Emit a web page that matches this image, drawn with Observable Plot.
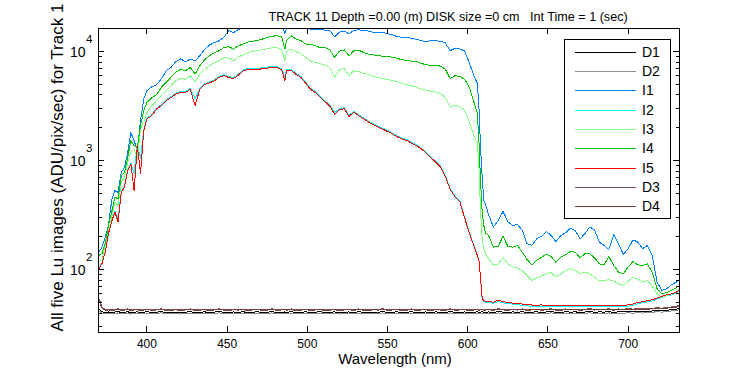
<!DOCTYPE html>
<html><head><meta charset="utf-8">
<script src="https://cdn.jsdelivr.net/npm/d3@7"></script>
<script src="https://cdn.jsdelivr.net/npm/@observablehq/plot@0.6"></script>
<style>
body{margin:0;background:#fff;}
#chart svg{display:block;}
</style></head>
<body><div id="chart"></div>
<script>
const wavelength = [370,372,374,376,378,380,382,384,386,388,390,392,394,396,398,400,
403,406,409,412,415,418,421,424,427,430,433,436,439,442,445,448,
451,454,457,460,463,466,469,472,475,478,481,484,486,487,490,493,496,499,
502,505,508,511,514,517,520,523,526,529,532,535,538,541,544,547,550,553,556,559,
562,565,568,571,574,577,580,583,586,589,592,595,598,601,604,
606,607,608,609,610,611,
613,616,619,622,625,628,631,634,637,640,643,646,649,652,655,658,661,664,667,670,673,676,679,682,685,688,691,694,697,700,703,706,709,712,715,718,721,724,727,730,
732];

const D1 = [44.0,41.2,40.6,41.0,40.3,40.9,41.4,40.5,40.8,41.3,40.2,40.9,41.1,40.4,40.8,41.2,
40.6,40.9,41.3,40.5,40.7,41.0,40.3,40.9,41.2,40.6,40.8,41.1,40.4,40.9,41.3,40.7,
40.5,41.0,40.8,41.2,40.4,40.9,41.1,40.6,40.8,41.3,40.5,40.9,41.0,40.7,41.2,40.4,40.8,41.1,
40.6,40.9,41.2,40.5,40.8,41.1,40.3,40.9,41.0,40.6,41.2,40.7,40.5,41.0,40.8,41.3,40.6,40.9,41.1,40.4,
40.8,41.2,40.6,40.9,41.0,40.5,41.1,40.8,40.6,41.3,40.7,40.9,41.0,40.5,40.9,
41.1,40.7,40.9,41.2,40.6,40.8,
41.0,40.7,41.3,40.9,40.6,41.1,40.8,41.2,40.5,40.9,41.1,40.7,41.0,41.3,40.8,40.6,41.2,40.9,41.1,40.7,41.0,41.4,40.8,41.1,40.9,41.3,40.7,41.2,41.0,41.4,41.1,41.5,41.2,41.6,41.9,42.3,42.0,42.6,43.0,43.4,
44.5];

const D2 = [42.0,40.1,39.5,39.9,39.3,39.8,40.2,39.4,39.7,40.1,39.2,39.8,40.0,39.3,39.7,40.1,
39.5,39.9,40.2,39.4,39.6,40.0,39.2,39.8,40.1,39.5,39.7,40.0,39.3,39.8,40.2,39.6,
39.4,39.9,39.7,40.1,39.3,39.8,40.0,39.5,39.7,40.2,39.4,39.8,39.9,39.6,40.1,39.3,39.7,40.0,
39.5,39.8,40.1,39.4,39.7,40.0,39.2,39.8,39.9,39.5,40.1,39.6,39.4,39.9,39.7,40.2,39.5,39.8,40.0,39.3,
39.7,40.1,39.5,39.8,39.9,39.4,40.0,39.7,39.5,40.2,39.6,39.8,39.9,39.4,39.8,
40.0,39.6,39.8,40.1,39.5,39.7,
39.9,39.6,40.2,39.8,39.5,40.0,39.7,40.1,39.4,39.8,40.0,39.6,39.9,40.2,39.7,39.5,40.1,39.8,40.0,39.6,39.9,40.3,39.7,40.0,39.8,40.2,39.6,40.1,39.9,40.3,40.0,40.4,40.1,40.5,40.8,41.2,40.9,41.5,41.9,42.3,
43.2];

const I1 = [145,161,199,254,431,531,512,780,865,1190,1800,1524,1235,2323,3670,4370,
4740,4950,5620,6660,7150,8050,8540,8050,8540,8200,9135,10500,11450,12100,12530,13500,
15600,14900,15900,16300,16100,16200,16600,17000,17400,17600,17800,17300,14600,16400,17500,17200,16900,16500,
16000,15800,15900,15700,15500,13600,15000,15400,14500,15600,15800,15600,15400,15000,15000,14900,14600,14200,13700,13500,
13500,13200,12950,12530,12400,12530,12530,12400,12000,10150,10700,10600,10100,7850,5900,
5100,3000,1300,700,430,400,
319,246,283,342,276,254,260,229,173,167,192,203,224,206,181,206,218,240,229,192,214,246,233,179,167,153,209,173,138,156,188,179,156,167,135,77,64.6,67,73,77,
81];

const I2 = [104,116,148,210,282,344,290,522,584,826,948,760,1400,1050,1920,2460,
2630,3030,3250,3610,3870,4140,4290,4290,4590,3700,4590,5070,5250,5500,5900,6120,
5900,5760,6200,6750,6980,7020,7020,7070,7180,7290,7290,6930,5800,6790,6830,6290,5900,5220,
4590,4290,3910,3530,3220,2760,2990,3050,2600,2840,2630,2470,2300,2180,2080,1980,1890,1790,1680,1610,
1560,1470,1400,1300,1200,1085,985,890,730,555,476,430,305,218,165,
136,121,82,54,51,50.5,
49.8,49.5,51,49.8,49,48.4,47.8,47.3,46.8,46.2,46.0,46.3,45.7,46.1,45.8,46.2,45.6,46.0,46.3,45.7,46.1,45.9,45.6,46.2,46.0,45.7,46.3,45.8,46.1,46.4,47.3,48.8,49.9,50.8,51.8,53.8,55.8,57.8,58.8,60.8,
64.5];

const I3 = [117,126,167,222,303,415,388,630,706,963,1190,1280,1040,1960,2270,2760,
3186,3540,3934,4370,4856,5395,5650,5580,5995,5300,6210,6880,7400,7900,8222,8840,
8700,8222,8920,9300,9800,10000,10200,10350,10580,10800,10850,10350,8222,10080,10500,9930,9460,8840,
8170,7950,7720,7500,7150,5780,6790,7000,5995,6660,6530,6300,6170,5950,5780,5650,5540,5395,5280,5100,
4960,4856,4700,4510,4420,4330,4240,4130,3790,3080,3230,3120,2868,2270,1670,
1470,840,337,192,156,140,
127,110,113,129,113,106,104,98,88.6,79.8,84.5,87.4,92.5,94,85.5,92,98,102,98.5,92,95,92,85.5,79,79.8,81,79,74,71.8,78.6,85,82.7,77,79.8,70.7,60.2,56,58.2,59.4,63,
67];

const I4 = [135,141,174,254,337,462,446,729,780,1070,1524,1372,1320,2091,2868,3420,
3770,4010,4700,5230,5800,6450,6880,6660,7150,6200,7400,8420,9135,9760,10150,10850,
11100,10500,11280,11700,12200,12450,12600,13000,13400,13800,13920,13600,10500,12530,13920,13000,12600,11700,
11700,11280,10850,10850,10350,8840,10080,10350,9135,10150,10300,9800,9460,9300,9200,9010,9010,8840,8660,8400,
8280,8170,8100,7760,7590,7430,7400,7350,6880,5650,5995,5900,5580,4700,3370,
2730,1470,630,337,254,218,
206,161,164,203,164,161,167,145,124,111,122,130,139,132,117,130,137,147,145,129,140,140,129,113,111,132,109.5,95,92,106,119,111,109.5,113,95,67,60,62,64.6,68.4,
71.8];

const I5 = [102,114,145,214,276,337,276,512,573,810,930,531,1372,760,1882,2410,
2581,2970,3186,3540,3790,4060,4210,4210,4500,3200,4500,4970,5150,5395,5780,5995,
5780,5650,6080,6620,6840,6880,6880,6930,7040,7150,7150,6790,5395,6660,6700,6170,5780,5120,
4500,4210,3830,3460,3160,2670,2930,2990,2540,2780,2581,2420,2260,2140,2040,1940,1850,1760,1650,1580,
1530,1440,1372,1280,1180,1065,965,875,718,545,467,422,300,215,163,
135,120,83,55,52,51.5,
51,50.5,52.5,51,50,49.5,49,48.5,48,47.5,47.2,47.6,46.9,47.3,47.0,47.4,46.8,47.2,47.5,46.9,47.3,47.1,46.8,47.4,47.2,46.9,47.5,47.0,47.3,47.6,48.5,50,51,52,53,55,57,59,60,62,
66];

const D3 = [55.0,45.5,43.0,43.5,42.8,43.4,43.9,42.9,43.3,43.8,42.7,43.4,43.6,42.9,43.3,43.7,
43.1,43.4,43.8,43.0,43.2,43.5,42.8,43.4,43.7,43.1,43.3,43.6,42.9,43.4,43.8,43.2,
43.0,43.5,43.3,43.7,42.9,43.4,43.6,43.1,43.3,43.8,43.0,43.4,43.5,43.2,43.7,42.9,43.3,43.6,
43.1,43.4,43.7,43.0,43.3,43.6,42.8,43.4,43.5,43.1,43.7,43.2,43.0,43.5,43.3,43.8,43.1,43.4,43.6,42.9,
43.3,43.7,43.1,43.4,43.5,43.0,43.6,43.3,43.1,43.8,43.2,43.4,43.5,43.0,43.4,
43.6,43.2,43.4,43.7,43.1,43.3,
43.5,43.2,43.8,43.4,43.1,43.6,43.3,43.7,43.0,43.4,43.6,43.2,43.5,43.8,43.3,43.1,43.7,43.4,43.6,43.2,43.5,43.9,43.3,43.6,43.4,43.8,43.2,43.7,43.5,43.9,43.6,44.0,43.7,44.1,44.4,44.8,44.5,45.1,45.6,46.0,
47.5];

const D4 = [53.0,44.5,42.4,42.9,42.2,42.8,43.3,42.3,42.7,43.2,42.1,42.8,43.0,42.3,42.7,43.1,
42.5,42.8,43.2,42.4,42.6,42.9,42.2,42.8,43.1,42.5,42.7,43.0,42.3,42.8,43.2,42.6,
42.4,42.9,42.7,43.1,42.3,42.8,43.0,42.5,42.7,43.2,42.4,42.8,42.9,42.6,43.1,42.3,42.7,43.0,
42.5,42.8,43.1,42.4,42.7,43.0,42.2,42.8,42.9,42.5,43.1,42.6,42.4,42.9,42.7,43.2,42.5,42.8,43.0,42.3,
42.7,43.1,42.5,42.8,42.9,42.4,43.0,42.7,42.5,43.2,42.6,42.8,42.9,42.4,42.8,
43.0,42.6,42.8,43.1,42.5,42.7,
42.9,42.6,43.2,42.8,42.5,43.0,42.7,43.1,42.4,42.8,43.0,42.6,42.9,43.2,42.7,42.5,43.1,42.8,43.0,42.6,42.9,43.3,42.7,43.0,42.8,43.2,42.6,43.1,42.9,43.3,43.0,43.4,43.1,43.5,43.8,44.2,43.9,44.5,45.0,45.4,
46.8];

const seriesNames = ["D1","D2","I1","I2","I3","I4","I5","D3","D4"];
const seriesColors = ["#000000","#8c8c8c","#0080ff","#00ffff","#80ff80","#00c000","#ff0000","#805050","#7a3c3c"];
const xTicks = [400,450,500,550,600,650,700];
const yMajor = [100,1000,10000];
const yMinor = [30,40,50,60,70,80,90,200,300,400,500,600,700,800,900,2000,3000,4000,5000,6000,7000,8000,9000];
const titleText = "TRACK 11 Depth =0.00 (m) DISK size =0 cm   Int Time = 1 (sec)";
const xLabel = "Wavelength (nm)";
const yLabel = "All five Lu images (ADU/pix/sec) for Track 1";

const seriesData = {D1, D2, I1, I2, I3, I4, I5, D3, D4};
for (const n of seriesNames) {
  if (seriesData[n].length !== wavelength.length) throw new Error(n + " length " + seriesData[n].length + " vs " + wavelength.length);
}

const W = 750, H = 375, mL = 98, mR = 71, mT = 28, mB = 43;
const fw = W - mL - mR, fh = H - mT - mB;
const font = "'Liberation Sans', Arial, Helvetica, sans-serif";

const rows = seriesNames.flatMap(name => seriesData[name].map((v, i) => ({wl: wavelength[i], v, s: name})));

const lineMarks = seriesNames.map((name, i) =>
  Plot.line(rows.filter(r => r.s === name), {x: "wl", y: "v", stroke: seriesColors[i], strokeWidth: 1, clip: true, shapeRendering: "crispEdges"})
);

const plot = Plot.plot({
  width: W, height: H,
  marginLeft: mL, marginRight: mR, marginTop: mT, marginBottom: mB,
  style: {fontFamily: font, fontSize: "12px", background: "#fff", color: "#000", overflow: "visible"},
  x: {domain: [369.8, 732]},
  y: {type: "log", domain: [26.6, 16240]},
  marks: [
    ...lineMarks,
    Plot.frame({stroke: "#000", strokeWidth: 1, shapeRendering: "crispEdges"}),
    Plot.tickX(xTicks, {x: d => d, insetTop: fh - 6, stroke: "#000", shapeRendering: "crispEdges"}),
    Plot.tickX(xTicks, {x: d => d, insetBottom: fh - 6, stroke: "#000", shapeRendering: "crispEdges"}),
    Plot.tickY(yMajor, {y: d => d, insetRight: fw - 6, stroke: "#000", shapeRendering: "crispEdges"}),
    Plot.tickY(yMajor, {y: d => d, insetLeft: fw - 6, stroke: "#000", shapeRendering: "crispEdges"}),
    Plot.tickY(yMinor, {y: d => d, insetRight: fw - 3.5, stroke: "#000", shapeRendering: "crispEdges"}),
    Plot.tickY(yMinor, {y: d => d, insetLeft: fw - 3.5, stroke: "#000", shapeRendering: "crispEdges"}),
    Plot.axisX({ticks: xTicks, tickSize: 0, tickPadding: 7, label: null, fontSize: 12}),
    Plot.axisY({ticks: yMajor, tickSize: 0, tickFormat: () => "", label: null}),
    Plot.text(yMajor, {y: d => d, frameAnchor: "left", text: () => "10", textAnchor: "end", dx: -13, dy: 0.7, fontSize: 14}),
    Plot.text(yMajor, {y: d => d, frameAnchor: "left", text: d => String(Math.round(Math.log10(d))), textAnchor: "start", dx: -12.5, dy: -12, fontSize: 11.5}),
    Plot.text([xLabel], {frameAnchor: "bottom", text: d => d, dx: 6, dy: 31, fontSize: 15}),
    Plot.text([yLabel], {frameAnchor: "left", text: d => d, rotate: -90, textAnchor: "middle", dx: -41, dy: -13, fontSize: 17}),
    Plot.text([titleText], {frameAnchor: "top-left", text: d => d, textAnchor: "start", dx: 170, dy: -16, fontSize: 12.6})
  ]
});

// legend box (inside axes, upper right)
const svg = d3.select(plot);
const lg = svg.append("g").attr("font-family", font).attr("font-size", 14).attr("text-anchor", "start");
lg.append("rect").attr("x", 564.5).attr("y", 39.5).attr("width", 106).attr("height", 179)
  .attr("fill", "#fff").attr("stroke", "#000").attr("shape-rendering", "crispEdges");
seriesNames.forEach((name, i) => {
  const yy = Math.round(51.7 + i * 19.3) + 0.5;
  lg.append("line").attr("x1", 575).attr("x2", 636).attr("y1", yy).attr("y2", yy)
    .attr("stroke", seriesColors[i]).attr("stroke-width", 1).attr("shape-rendering", "crispEdges");
  lg.append("text").attr("x", 642).attr("y", yy).attr("dy", "0.35em").attr("fill", "#000").text(name);
});

document.getElementById("chart").appendChild(plot);
</script>
</body></html>
